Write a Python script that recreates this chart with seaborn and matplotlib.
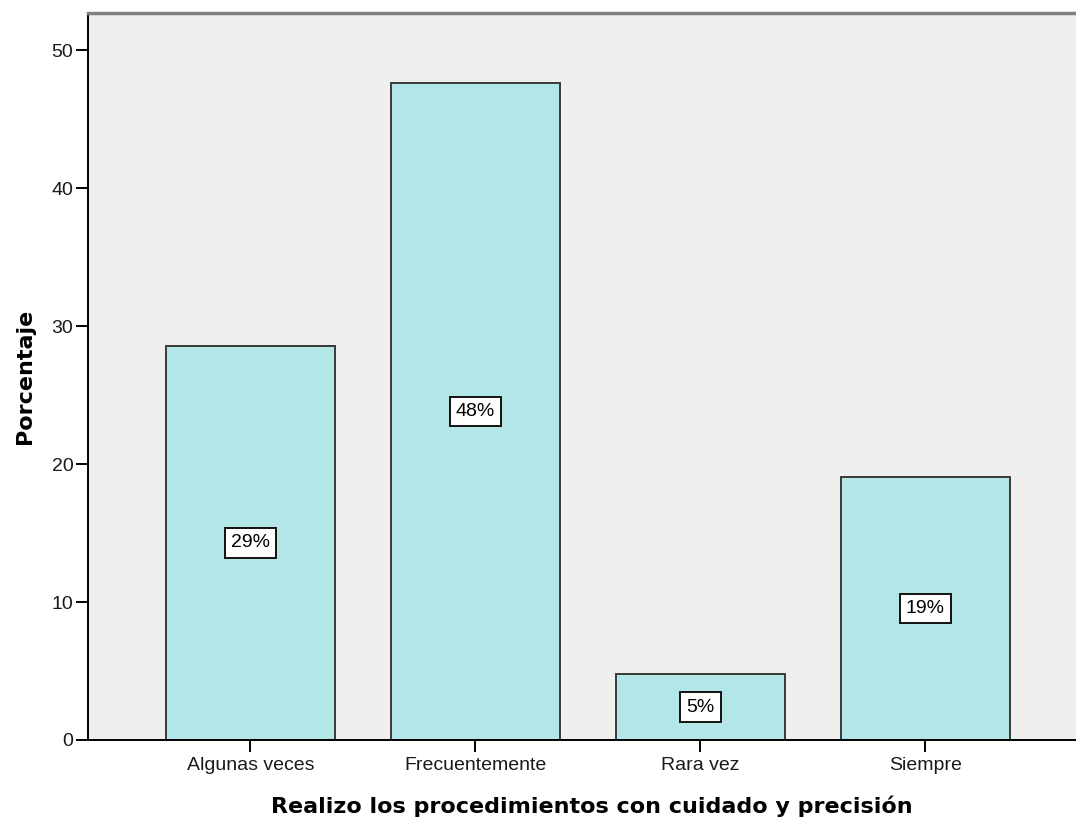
import matplotlib
matplotlib.use("Agg")
import matplotlib.pyplot as plt
import seaborn as sns
import pandas as pd

categorias = ["Algunas veces", "Frecuentemente", "Rara vez", "Siempre"]
porcentajes = [28.57, 47.62, 4.76, 19.05]
etiquetas = ["29%", "48%", "5%", "19%"]
yticks = [0, 10, 20, 30, 40, 50]

sns.set_style("white")
plt.rcParams["font.family"] = ["Liberation Sans", "DejaVu Sans"]

df = pd.DataFrame({"categoria": categorias, "porcentaje": porcentajes})

fig = plt.figure(figsize=(10.76, 8.18), dpi=100)
ax = fig.add_axes([88 / 1076, 78 / 818, (1076 - 88) / 1076, (740 - 13) / 818])
ax.set_facecolor("#EFEFEF")

sns.barplot(data=df, x="categoria", y="porcentaje", ax=ax, width=0.75,
            color="#B3E6E6", saturation=1, edgecolor="#3a3a3a", linewidth=1.4)

# percentage labels in white boxes at mid-height of each bar
for i, (v, t) in enumerate(zip(porcentajes, etiquetas)):
    ax.text(i, v / 2, t, ha="center", va="center", fontsize=14, color="black",
            bbox=dict(boxstyle="square,pad=0.32", facecolor="white",
                      edgecolor="#111111", linewidth=1.4))

ax.set_xlim(-0.722, 3.669)
ax.set_ylim(0, 52.7)
ax.set_yticks(yticks)
ax.tick_params(axis="both", which="both", bottom=True, left=True, length=8.5,
               width=1.4, color="black", labelsize=14, labelcolor="#1a1a1a",
               direction="out")
ax.tick_params(axis="y", pad=2)
ax.tick_params(axis="x", pad=3.5)

for side in ["left", "bottom"]:
    ax.spines[side].set_color("black")
    ax.spines[side].set_linewidth(1.4)
ax.spines["top"].set_color("#808080")
ax.spines["top"].set_linewidth(2.5)
ax.spines["right"].set_visible(False)

ax.set_xlabel("Realizo los procedimientos con cuidado y precisión",
              fontsize=16, fontweight="bold", family="DejaVu Sans",
              color="black")
ax.xaxis.set_label_coords(0.51, -0.076)
ax.set_ylabel("Porcentaje", fontsize=16, fontweight="bold", family="DejaVu Sans",
              labelpad=12, color="black")

fig.savefig("out.png", dpi=100)
